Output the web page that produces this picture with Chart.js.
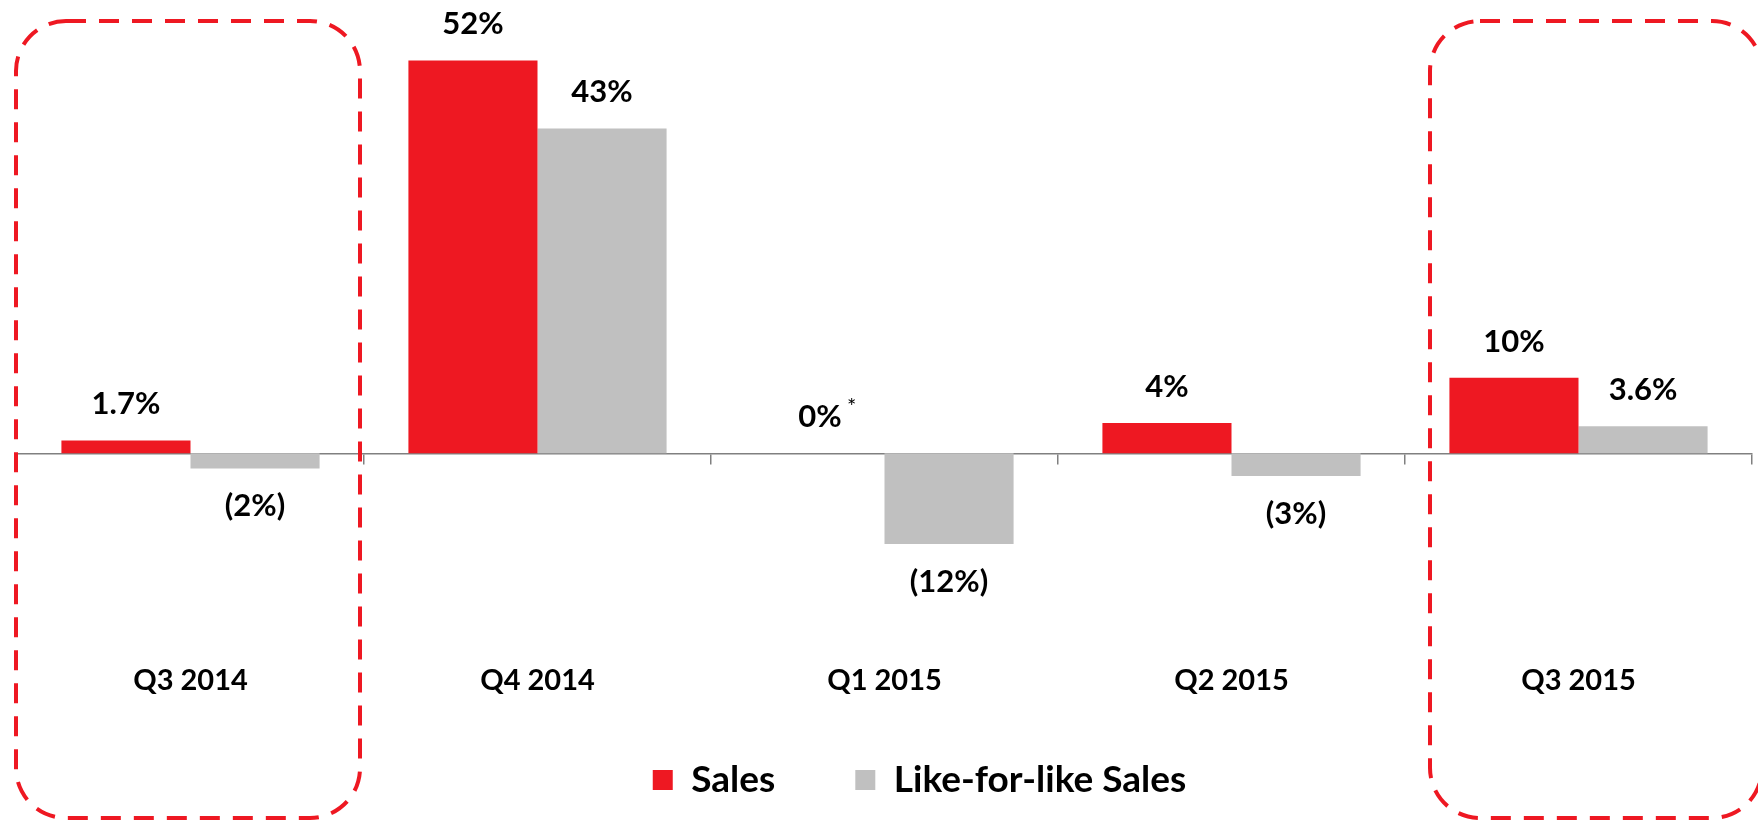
<!DOCTYPE html>
<html>
<head>
<meta charset="utf-8">
<script src="https://cdn.jsdelivr.net/npm/chart.js@4.4.1/dist/chart.umd.min.js"></script>
<style>
  html, body { margin: 0; padding: 0; background: #fff; }
  #wrap { width: 1758px; height: 822px; position: relative; }
</style>
</head>
<body>
<div id="wrap"><canvas id="salesChart"></canvas></div>
<script>
// ── Data ──────────────────────────────────────────────────────────────────
const QUARTERS    = ['Q3 2014', 'Q4 2014', 'Q1 2015', 'Q2 2015', 'Q3 2015'];
const SALES       = [1.7, 52, 0, 4, 10];
const LFL_SALES   = [-2, 43, -12, -3, 3.6];
const SALES_TEXT  = ['1.7%', '52%', '0%', '4%', '10%'];
const LFL_TEXT    = ['(2%)', '43%', '(12%)', '(3%)', '3.6%'];
const SALES_NOTES = ['', '', '*', '', ''];
const HIGHLIGHTED = ['Q3 2014', 'Q3 2015'];

// ── Palette ───────────────────────────────────────────────────────────────
const RED  = '#EE1822';
const GREY = '#C0C0C0';
const AXIS = '#808080';

const LABEL_TEXTS = [SALES_TEXT, LFL_TEXT];
const LABEL_NOTES = [SALES_NOTES, null];

// Value labels above / below each bar
const valueLabels = {
  id: 'valueLabels',
  afterDatasetsDraw(chart) {
    const ctx = chart.ctx;
    ctx.save();
    ctx.fillStyle    = '#000';
    ctx.textAlign    = 'center';
    ctx.textBaseline = 'middle';
    chart.data.datasets.forEach((ds, di) => {
      chart.getDatasetMeta(di).data.forEach((bar, i) => {
        const text = LABEL_TEXTS[di][i];
        const y    = ds.data[i] < 0 ? bar.y + 38 : bar.y - 36;
        ctx.font = 'bold 31px Lato';
        ctx.fillText(text, bar.x, y);
        const note = LABEL_NOTES[di] && LABEL_NOTES[di][i];
        if (note) {
          const w = ctx.measureText(text).width;
          ctx.font = '22px Lato';
          ctx.fillText(note, bar.x + w / 2 + 10, y - 10);
        }
      });
    });
    ctx.restore();
  },
};

// Dashed rounded frames round the highlighted quarters
const highlightBoxes = {
  id: 'highlightBoxes',
  afterDraw(chart, args, opts) {
    const x    = chart.scales.x;
    const half = x.width / QUARTERS.length / 2;
    const ctx  = chart.ctx;
    ctx.save();
    ctx.strokeStyle = opts.color;
    ctx.lineWidth   = opts.lineWidth;
    ctx.setLineDash(opts.dash);
    HIGHLIGHTED.forEach((q, k) => {
      const c = x.getPixelForValue(QUARTERS.indexOf(q));
      const [dl, dr] = opts.inset[k];
      const left  = c - half + dl;
      const right = c + half + dr;
      ctx.beginPath();
      ctx.roundRect(left, opts.top, right - left, chart.height - opts.bottom - opts.top, opts.radius);
      ctx.stroke();
    });
    ctx.restore();
  },
};

// Nudge the legend a little right of centre, as in the slide
const legendShift = {
  id: 'legendShift',
  afterLayout(chart, args, opts) {
    if (!chart.legend) return;
    chart.legend.left  += opts.dx;
    chart.legend.right += opts.dx;
  },
};

new Chart(document.getElementById('salesChart').getContext('2d'), {
  type: 'bar',
  data: {
    labels: QUARTERS,
    datasets: [
      { label: 'Sales',               data: SALES,     backgroundColor: RED  },
      { label: 'Like-for-like Sales', data: LFL_SALES, backgroundColor: GREY },
    ],
  },
  options: {
    responsive:          true,
    maintainAspectRatio: false,
    animation:           false,
    datasets: { bar: { categoryPercentage: 0.744, barPercentage: 1.0 } },
    layout: { padding: { left: 17, right: 6, top: 0, bottom: 13.5 } },
    scales: {
      // zero line with tick marks between quarters
      x: {
        position: { y: 0 },
        grid:   { drawOnChartArea: false, offset: true, color: AXIS, tickLength: 10, lineWidth: 1.5 },
        border: { color: AXIS, width: 1.5 },
        ticks:  { display: false },
      },
      // quarter names, hung well below the zero line
      xLabels: {
        type: 'category',
        position: { y: -26.7 },
        offset: true,
        grid:   { display: false },
        border: { display: false },
        ticks:  { color: '#000', padding: 0, font: { family: 'Lato', weight: 'bold', size: 29 } },
      },
      y: { display: false, min: -30.2, max: 60 },
    },
    plugins: {
      legend: {
        position: 'bottom',
        labels: {
          boxWidth: 20, boxHeight: 20, padding: 80, color: '#000',
          font: { family: 'Lato', weight: 'bold', size: 37 },
        },
      },
      legendShift: { dx: 35 },
      tooltip: { enabled: false },
      highlightBoxes: {
        color: RED, lineWidth: 4, dash: [20, 13], radius: 50,
        top: 21, bottom: 4,
        inset: [[-1, -4], [25, 10]],
      },
    },
  },
  plugins: [valueLabels, highlightBoxes, legendShift],
});
</script>
</body>
</html>
